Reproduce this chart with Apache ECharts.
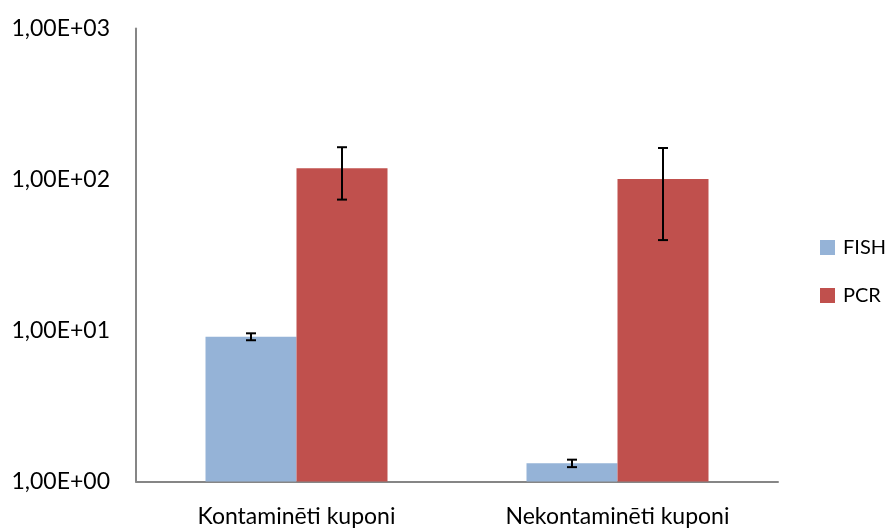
<!DOCTYPE html>
<html>
<head>
<meta charset="utf-8">
<script src="https://cdn.jsdelivr.net/npm/echarts@6/dist/echarts.min.js"></script>
<style>
  html, body { margin: 0; padding: 0; background: #fff; }
  #chart { width: 890px; height: 529px; }
</style>
</head>
<body>
<div id="chart"></div>
<script>
// Categories and measured values (log scale)
const categories = ['Kontaminēti kuponi', 'Nekontaminēti kuponi'];
const fishValues = [9.1, 1.32];
const fishErrors = [0.48, 0.075];
const pcrValues = [118.6, 100.7];
const pcrErrors = [45, 61];
const yTicks = [1, 10, 100, 1000];

const FONT = 'Lato, "Open Sans", sans-serif';

function formatExp(v) {
  const exp = Math.round(Math.log10(v));
  const sign = exp >= 0 ? '+' : '-';
  const e = String(Math.abs(exp)).padStart(2, '0');
  return '1,00E' + sign + e;
}

// Error bar drawn as I-beam centred on the bar of a given series
function errorBarSeries(values, errors, side, name) {
  return {
    type: 'custom',
    name: name + ' err',
    z: 10,
    silent: true,
    data: values.map((v, i) => [i, v - errors[i], v + errors[i]]),
    renderItem: function (params, api) {
      const idx = api.value(0);
      const lo = api.coord([idx, api.value(1)]);
      const hi = api.coord([idx, api.value(2)]);
      const catW = api.size([1, 0])[0];
      const barW = catW * (1 - 0.433) / 2;
      const x = lo[0] + side * barW / 2;
      const cap = 5;
      const style = { stroke: '#000', lineWidth: 2 };
      return {
        type: 'group',
        children: [
          { type: 'line', shape: { x1: x, y1: hi[1], x2: x, y2: lo[1] }, style: style },
          { type: 'line', shape: { x1: x - cap, y1: hi[1], x2: x + cap, y2: hi[1] }, style: style },
          { type: 'line', shape: { x1: x - cap, y1: lo[1], x2: x + cap, y2: lo[1] }, style: style }
        ]
      };
    }
  };
}

const chart = echarts.init(document.getElementById('chart'), null, { renderer: 'canvas' });
chart.setOption({
  animation: false,
  backgroundColor: '#ffffff',
  grid: { left: 136, right: 112, top: 28.5, bottom: 47.5, containLabel: false },
  legend: {
    orient: 'vertical',
    left: 820,
    top: 237.5,
    padding: 0,
    itemWidth: 15,
    itemHeight: 15,
    itemGap: 28,
    icon: 'rect',
    textStyle: { fontFamily: FONT, fontSize: 20, color: '#000', padding: [0, 0, 0, 3] },
    data: ['FISH', 'PCR']
  },
  xAxis: {
    type: 'category',
    data: categories,
    axisLine: { lineStyle: { color: '#868686', width: 2 } },
    axisTick: { show: false },
    axisLabel: { fontFamily: FONT, fontSize: 23, color: '#000', margin: 24 }
  },
  yAxis: {
    type: 'log',
    logBase: 10,
    min: yTicks[0],
    max: yTicks[yTicks.length - 1],
    axisLine: { show: true, lineStyle: { color: '#868686', width: 2 } },
    axisTick: { show: false },
    splitLine: { show: false },
    axisLabel: {
      fontFamily: FONT, fontSize: 23, color: '#000', margin: 26,
      formatter: formatExp
    }
  },
  series: [
    {
      name: 'FISH', type: 'bar', data: fishValues,
      barGap: 0, barCategoryGap: '43.3%',
      itemStyle: { color: '#95b3d7' }
    },
    {
      name: 'PCR', type: 'bar', data: pcrValues,
      barGap: 0, barCategoryGap: '43.3%',
      itemStyle: { color: '#c0504d' }
    },
    errorBarSeries(fishValues, fishErrors, -1, 'FISH'),
    errorBarSeries(pcrValues, pcrErrors, 1, 'PCR')
  ]
});
</script>
</body>
</html>
